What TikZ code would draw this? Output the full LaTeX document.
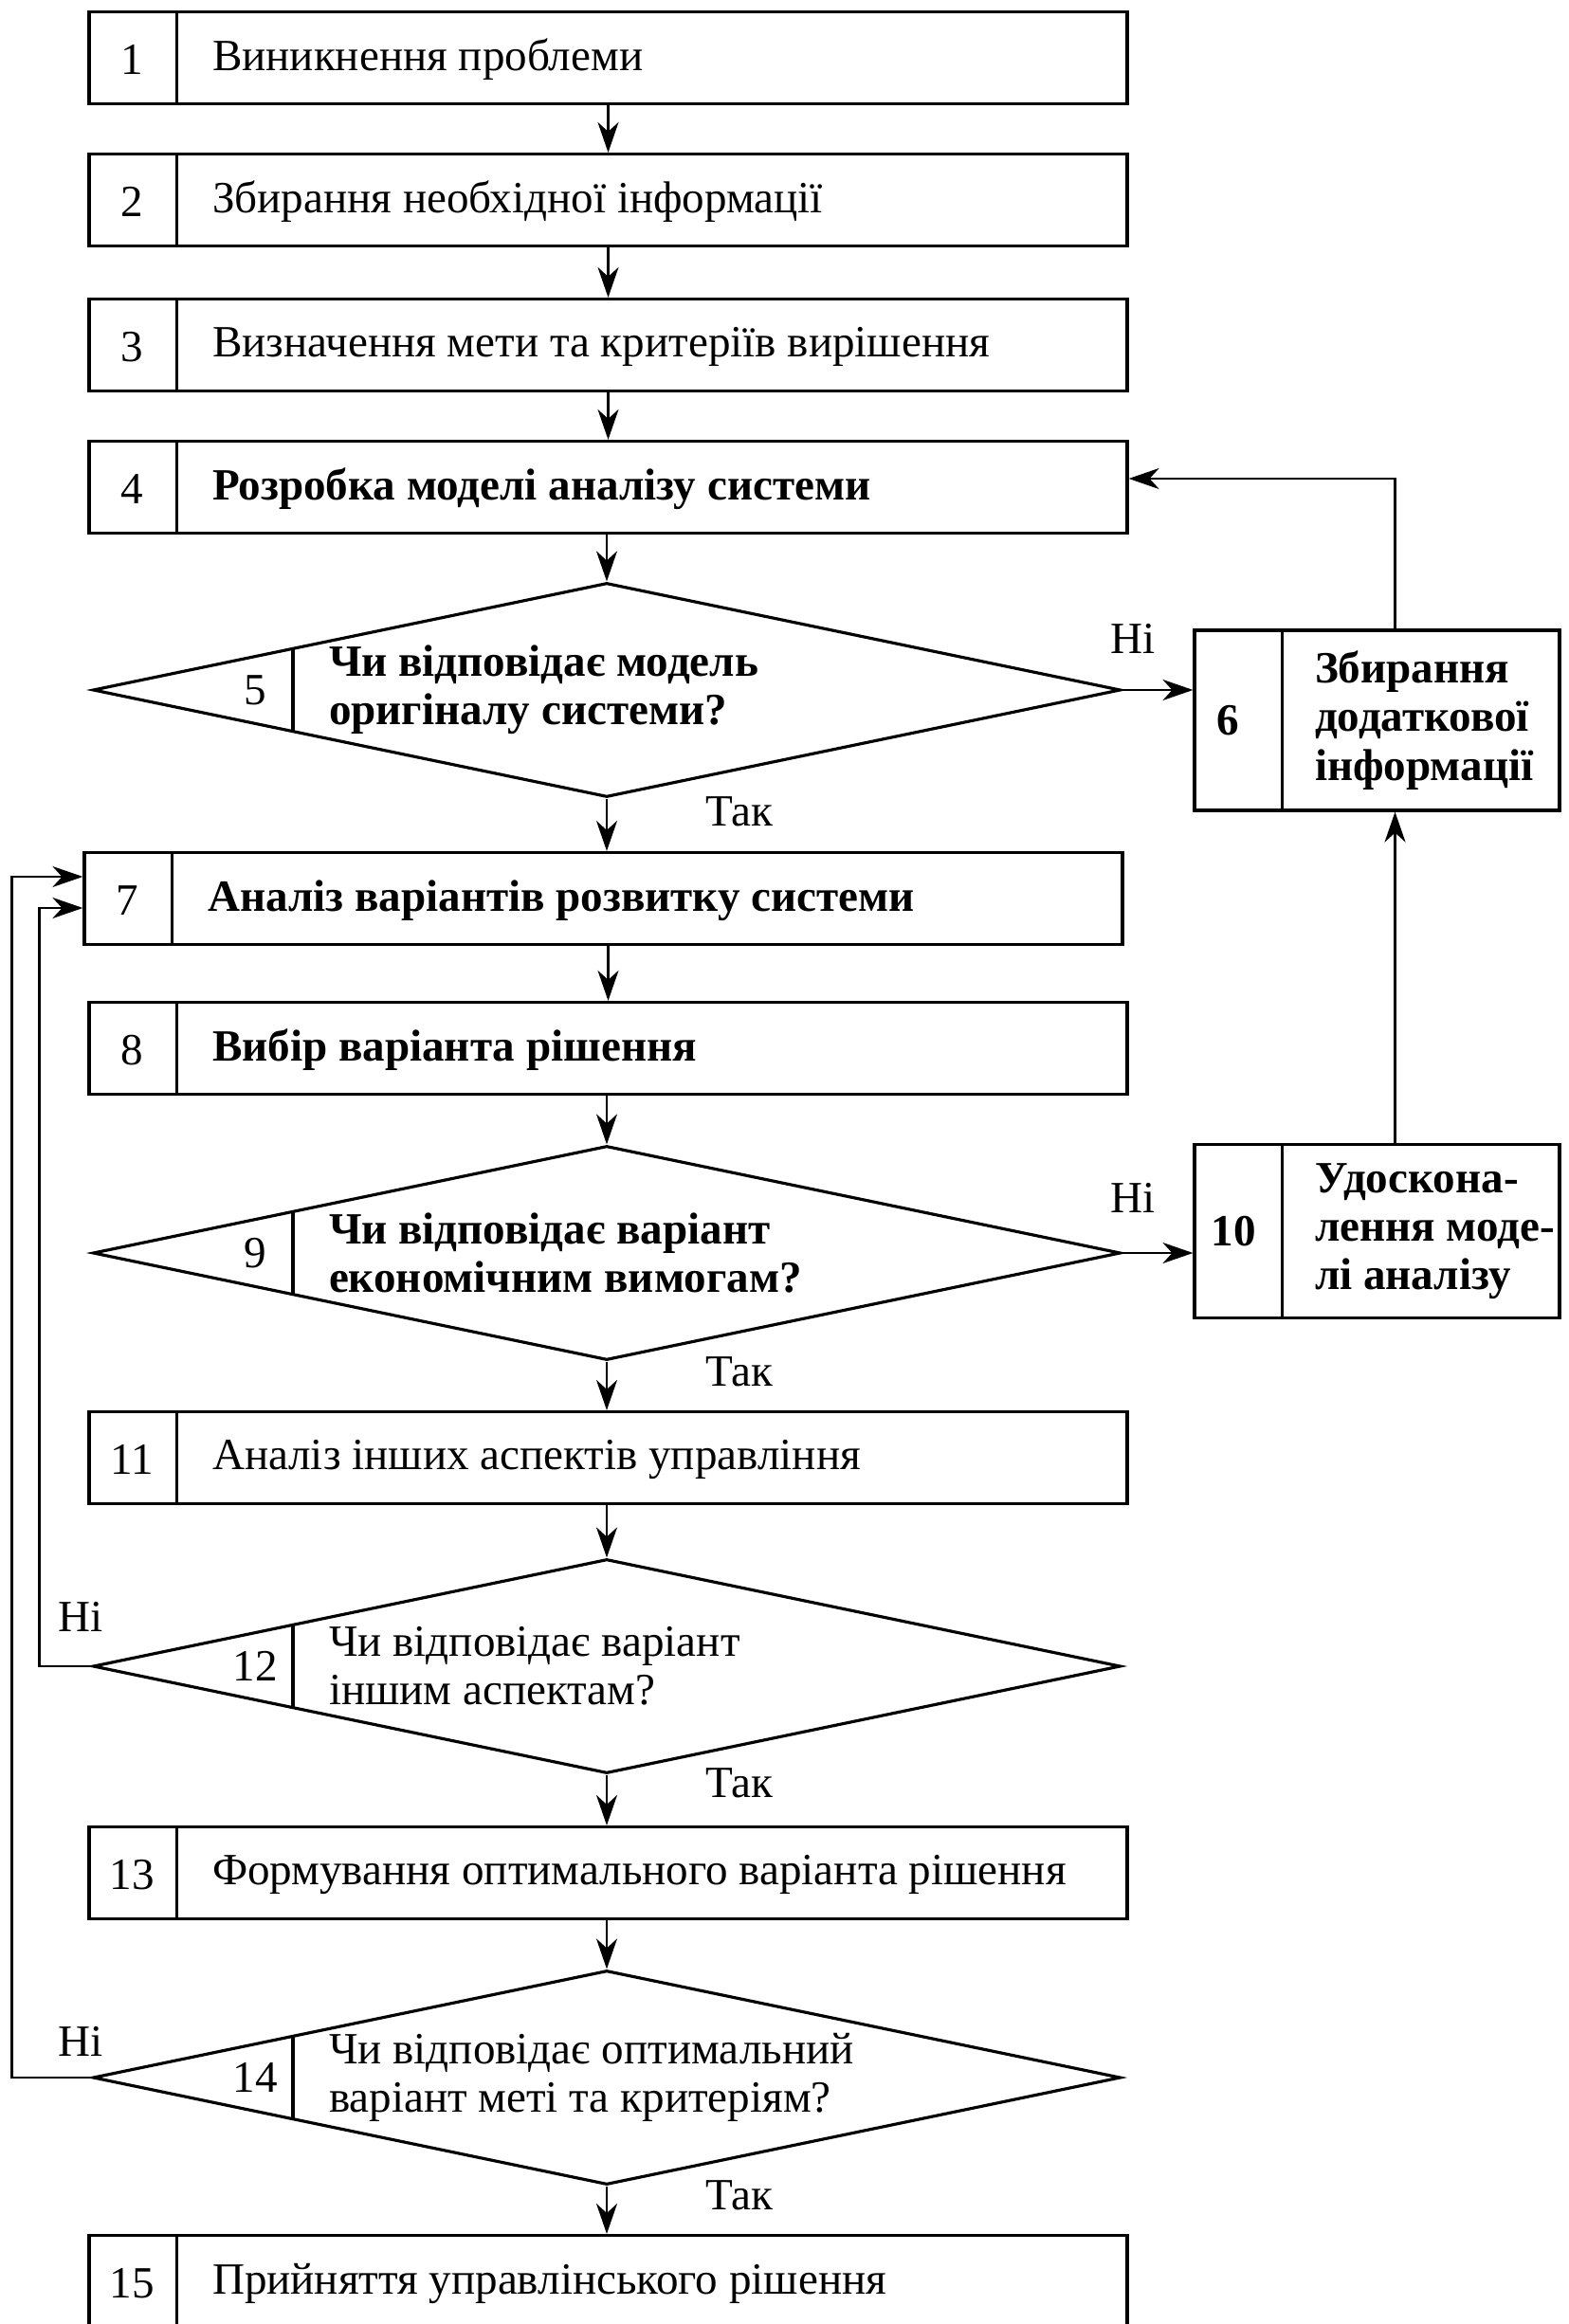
\documentclass[tikz,border=0pt]{standalone}
\usepackage{fontspec}
\setmainfont{Liberation Serif}
\usetikzlibrary{shapes.geometric,arrows.meta,calc}

\begin{document}
\begin{tikzpicture}[
  line width=0.9pt,
  box/.style={draw, rectangle, minimum width=10.95cm, minimum height=0.97cm, inner sep=0pt},
  sidebox/.style={draw, rectangle, minimum width=3.85cm, inner sep=0pt},
  dmd/.style={draw, diamond, minimum width=10.84cm, minimum height=2.26cm, inner sep=0pt},
  num/.style={inner sep=0pt, font=\fontsize{13.4}{14.6}\selectfont},
  txt/.style={inner sep=0pt, anchor=west, align=left, font=\fontsize{13.4}{14.6}\selectfont},
  lbl/.style={inner sep=0pt, font=\fontsize{13.4}{14.6}\selectfont},
  arr/.style={-{Stealth[length=3.2mm, width=2.2mm, inset=1mm]}, line width=0.7pt}
]
\useasboundingbox (0,0) rectangle (16.55,-24.52);

% main column
\node[box] (b1) at (6.415,-0.61) {};
\draw ([xshift=0.94cm]b1.north west) -- ([xshift=0.94cm]b1.south west);
\node[num] (n1) at ($(b1.west)+(0.47,-0.02)$) {1};
\node[txt] (t1) at ($(b1.west)+(1.30,-0.02)$) {Виникнення проблеми};

\node[box] (b2) at (6.415,-2.11) {};
\draw ([xshift=0.94cm]b2.north west) -- ([xshift=0.94cm]b2.south west);
\node[num] (n2) at ($(b2.west)+(0.47,-0.02)$) {2};
\node[txt] (t2) at ($(b2.west)+(1.30,-0.02)$) {Збирання необхідної інформації};

\node[box] (b3) at (6.415,-3.64) {};
\draw ([xshift=0.94cm]b3.north west) -- ([xshift=0.94cm]b3.south west);
\node[num] (n3) at ($(b3.west)+(0.47,-0.02)$) {3};
\node[txt] (t3) at ($(b3.west)+(1.30,-0.02)$) {Визначення мети та критеріїв вирішення};

\node[box] (b4) at (6.415,-5.14) {};
\draw ([xshift=0.94cm]b4.north west) -- ([xshift=0.94cm]b4.south west);
\node[num] (n4) at ($(b4.west)+(0.47,-0.02)$) {4};
\node[txt] (t4) at ($(b4.west)+(1.30,-0.02)$) {\bfseries Розробка моделі аналізу системи};

\node[dmd] (d5) at (6.40,-7.28) {};
\draw ($(d5.west)!0.391!(d5.north)$) -- ($(d5.west)!0.391!(d5.south)$);
\node[num] (n5) at ($(d5.west)+(1.73,0)$) {5};
\node[txt] (t5) at ($(d5.west)+(2.49,0)$) {\bfseries Чи відповідає модель\\\bfseries оригіналу системи?};

\node[sidebox, minimum height=1.90cm] (s6) at (14.525,-7.60) {};
\draw ([xshift=0.94cm]s6.north west) -- ([xshift=0.94cm]s6.south west);
\node[num] (n6) at ($(s6.west)+(0.37,0)$) {\bfseries 6};
\node[txt] (t6) at ($(s6.west)+(1.27,0)$) {\bfseries Збирання\\\bfseries додаткової\\\bfseries інформації};

\node[box] (b7) at (6.365,-9.48) {};
\draw ([xshift=0.94cm]b7.north west) -- ([xshift=0.94cm]b7.south west);
\node[num] (n7) at ($(b7.west)+(0.47,-0.02)$) {7};
\node[txt] (t7) at ($(b7.west)+(1.30,-0.02)$) {\bfseries Аналіз варіантів розвитку системи};

\node[box] (b8) at (6.415,-11.06) {};
\draw ([xshift=0.94cm]b8.north west) -- ([xshift=0.94cm]b8.south west);
\node[num] (n8) at ($(b8.west)+(0.47,-0.02)$) {8};
\node[txt] (t8) at ($(b8.west)+(1.30,-0.02)$) {\bfseries Вибір варіанта рішення};

\node[dmd] (d9) at (6.40,-13.22) {};
\draw ($(d9.west)!0.391!(d9.north)$) -- ($(d9.west)!0.391!(d9.south)$);
\node[num] (n9) at ($(d9.west)+(1.73,0)$) {9};
\node[txt] (t9) at ($(d9.west)+(2.49,0)$) {\bfseries Чи відповідає варіант\\\bfseries економічним вимогам?};

\node[sidebox, minimum height=1.83cm] (s10) at (14.525,-12.99) {};
\draw ([xshift=0.94cm]s10.north west) -- ([xshift=0.94cm]s10.south west);
\node[num] (n10) at ($(s10.west)+(0.43,0)$) {\bfseries 10};
\node[txt] (t10) at ($(s10.west)+(1.27,0)$) {\bfseries Удоскона-\\\bfseries лення моде-\\\bfseries лі аналізу};

\node[box] (b11) at (6.415,-15.38) {};
\draw ([xshift=0.94cm]b11.north west) -- ([xshift=0.94cm]b11.south west);
\node[num] (n11) at ($(b11.west)+(0.47,-0.02)$) {11};
\node[txt] (t11) at ($(b11.west)+(1.30,-0.02)$) {Аналіз інших аспектів управління};

\node[dmd] (d12) at (6.40,-17.58) {};
\draw ($(d12.west)!0.391!(d12.north)$) -- ($(d12.west)!0.391!(d12.south)$);
\node[num] (n12) at ($(d12.west)+(1.73,0)$) {12};
\node[txt] (t12) at ($(d12.west)+(2.49,0)$) {Чи відповідає варіант\\іншим аспектам?};

\node[box] (b13) at (6.415,-19.76) {};
\draw ([xshift=0.94cm]b13.north west) -- ([xshift=0.94cm]b13.south west);
\node[num] (n13) at ($(b13.west)+(0.47,-0.02)$) {13};
\node[txt] (t13) at ($(b13.west)+(1.30,-0.02)$) {Формування оптимального варіанта рішення};

\node[dmd] (d14) at (6.40,-21.92) {};
\draw ($(d14.west)!0.391!(d14.north)$) -- ($(d14.west)!0.391!(d14.south)$);
\node[num] (n14) at ($(d14.west)+(1.73,0)$) {14};
\node[txt] (t14) at ($(d14.west)+(2.49,0)$) {Чи відповідає оптимальний\\варіант меті та критеріям?};

\node[box] (b15) at (6.415,-24.07) {};
\draw ([xshift=0.94cm]b15.north west) -- ([xshift=0.94cm]b15.south west);
\node[num] (n15) at ($(b15.west)+(0.47,-0.02)$) {15};
\node[txt] (t15) at ($(b15.west)+(1.30,-0.02)$) {Прийняття управлінського рішення};

% answers
\node[lbl] (no5) at (11.95,-6.74) {Ні};
\node[lbl] (yes5) at (7.80,-8.56) {Так};
\node[lbl] (no9) at (11.95,-12.64) {Ні};
\node[lbl] (yes9) at (7.80,-14.47) {Так};
\node[lbl] (no12) at (0.85,-17.06) {Ні};
\node[lbl] (yes12) at (7.80,-18.81) {Так};
\node[lbl] (no14) at (0.85,-21.54) {Ні};
\node[lbl] (yes14) at (7.80,-23.16) {Так};

% arrows
\draw[arr] (b1.south) -- (b2.north);
\draw[arr] (b2.south) -- (b3.north);
\draw[arr] (b3.south) -- (b4.north);
\draw[arr] (b4.south -| d5.north) -- (d5.north);
\draw[arr] (d5.east) -- (d5.east -| s6.west);
\draw[arr] ([xshift=0.19cm]s6.north) |- ([yshift=0.09cm]b4.east);
\draw[arr] (d5.south) -- (d5.south |- b7.north);
\draw[arr] (b8.north |- b7.south) -- (b8.north);
\draw[arr] (b8.south -| d9.north) -- (d9.north);
\draw[arr] (d9.east) -- (d9.east -| s10.west);
\draw[arr] ([xshift=0.19cm]s10.north) -- ([xshift=0.19cm]s6.south);
\draw[arr] (d9.south) -- (d9.south |- b11.north);
\draw[arr] (b11.south -| d12.north) -- (d12.north);
\draw[arr] (d12.south) -- (d12.south |- b13.north);
\draw[arr] (b13.south -| d14.north) -- (d14.north);
\draw[arr] (d14.south) -- (d14.south |- b15.north);
\draw[arr] (d12.west) -- ++(-0.55,0) |- ([yshift=-0.10cm]b7.west);
\draw[arr] (d14.west) -- ++(-0.84,0) |- ([yshift=0.23cm]b7.west);
\end{tikzpicture}
\end{document}
